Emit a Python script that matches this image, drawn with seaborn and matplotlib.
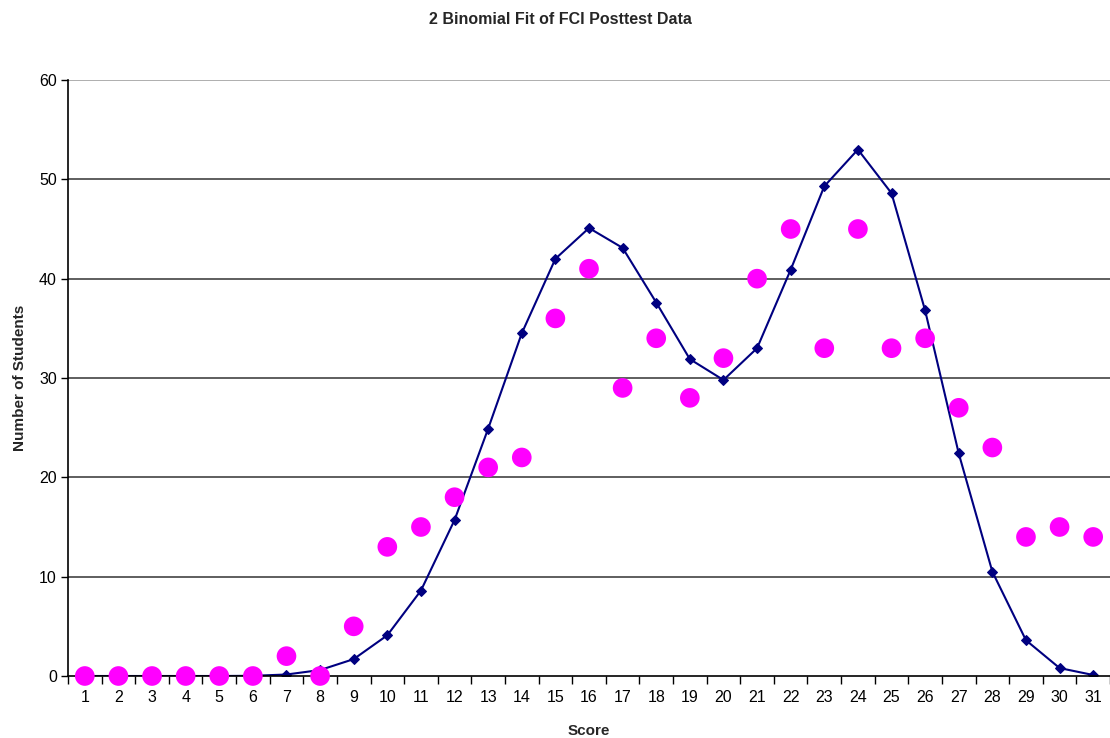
import matplotlib
matplotlib.use("Agg")
import matplotlib.pyplot as plt
import seaborn as sns
import pandas as pd
import numpy as np

scores = list(range(1, 32))
observed = [0, 0, 0, 0, 0, 0, 2, 0, 5, 13, 15, 18, 21, 22, 36, 41, 29, 34, 28, 32,
            40, 45, 33, 45, 33, 34, 27, 23, 14, 15, 14]
fit = [0, 0, 0, 0, 0, 0.02, 0.15, 0.6, 1.7, 4.1, 8.6, 15.7, 24.9, 34.5, 42.0, 45.1,
       43.1, 37.6, 31.9, 29.8, 33.0, 40.9, 49.3, 53.0, 48.6, 36.8, 22.4, 10.5, 3.6, 0.8, 0.1]
yticks = [0, 10, 20, 30, 40, 50, 60]

df = pd.DataFrame({"Score": scores, "Observed": observed, "Fit": fit})

sns.set_style("white")
plt.rcParams['font.family'] = ['Liberation Sans', 'DejaVu Sans']

fig = plt.figure(figsize=(11.1, 7.38), dpi=100)
ax = fig.add_axes([68/1110, 62/738, 1 - 68/1110, (676-80)/738])

for v in yticks[1:]:
    ax.axhline(v, color='#333333' if v < 60 else '#999999', lw=1.1, zorder=0)

sns.lineplot(data=df, x="Score", y="Fit", ax=ax, color='#000080', lw=1.5,
             marker='D', markersize=5, markeredgecolor='#000080', zorder=2)
sns.scatterplot(data=df, x="Score", y="Observed", ax=ax, color='#FF00FF', s=200,
                edgecolor='none', zorder=3, clip_on=False)

ax.set_xlim(0.5, 31.5)
ax.set_ylim(0, 60)
ax.set_yticks(yticks)
ax.set_xticks(scores)
ax.set_xticks(np.arange(0.5, 32, 1), minor=True)
ax.tick_params(axis='x', which='major', length=0, labelsize=11.5, pad=10)
ax.tick_params(axis='x', which='minor', length=6, width=1, color='black', direction='out')
ax.tick_params(axis='y', length=5, width=1, color='black', direction='out', labelsize=11.5, pad=3)
ax.tick_params(colors='black')
ax.xaxis.set_ticks_position('bottom')
ax.yaxis.set_ticks_position('left')

for s in ['top', 'right']:
    ax.spines[s].set_visible(False)
for s in ['left', 'bottom']:
    ax.spines[s].set_color('black')
    ax.spines[s].set_linewidth(1.2)

ax.set_xlabel("Score", fontsize=11, fontweight='bold', labelpad=14)
ax.set_ylabel("Number of Students", fontsize=11, fontweight='bold', labelpad=9)
fig.text(560/1110, 1 - 19/738, "2 Binomial Fit of FCI Posttest Data", ha='center', va='center',
         fontsize=11.5, fontweight='bold')

fig.savefig("out.png", dpi=100)
